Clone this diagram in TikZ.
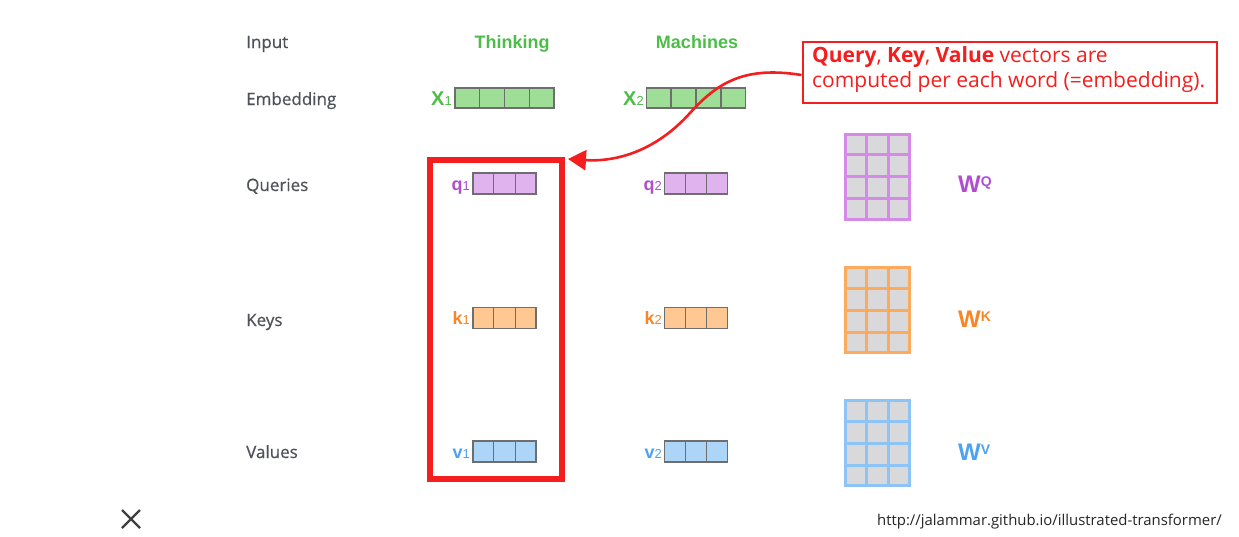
\documentclass[tikz,border=0pt]{standalone}
\usepackage{fontspec}
\setmainfont{Open Sans}
\newfontfamily\arialf{Liberation Sans}
\newfontfamily\labfont{Open Sans}[FakeBold=0.5]
\usetikzlibrary{arrows.meta,calc}
\definecolor{labgray}{RGB}{78,82,88}
\definecolor{wgreen}{RGB}{76,190,72}
\definecolor{gfill}{RGB}{158,222,150}
\definecolor{qpurple}{RGB}{176,78,208}
\definecolor{pfill}{RGB}{224,178,238}
\definecolor{pborder}{RGB}{214,138,232}
\definecolor{korange}{RGB}{245,135,40}
\definecolor{ofill}{RGB}{255,200,146}
\definecolor{oborder}{RGB}{251,170,94}
\definecolor{vblue}{RGB}{77,163,240}
\definecolor{bfill}{RGB}{172,213,248}
\definecolor{bborder}{RGB}{140,196,245}
\definecolor{cellgray}{RGB}{217,217,219}
\definecolor{boxgray}{RGB}{110,110,110}
\definecolor{hred}{RGB}{244,30,30}
\definecolor{xgray}{RGB}{64,64,64}
\tikzset{
  rowlab/.style={anchor=base west, inner sep=0pt, text=labgray, font=\labfont\fontsize{17}{17}\selectfont},
  wordlab/.style={anchor=base, inner sep=0pt, text=wgreen, font=\arialf\bfseries\fontsize{18}{18}\selectfont},
  veclab/.style={anchor=base east, inner sep=0pt},
  vecbox/.style={draw=boxgray, line width=1.2pt, inner sep=0pt},
  matbox/.style={line width=3pt, fill=cellgray, inner sep=0pt, minimum width=64pt, minimum height=85pt},
  wlab/.style={anchor=base west, inner sep=0pt, font=\arialf\bfseries\fontsize{24}{24}\selectfont},
  hl/.style={draw=hred, line width=6pt, inner sep=0pt},
  callout/.style={draw=hred, line width=2pt, inner sep=0pt, minimum width=414pt, minimum height=61pt},
  calltext/.style={anchor=north west, inner sep=0pt, text=hred, align=left, font=\fontsize{21}{25}\selectfont},
  redarrow/.style={draw=hred, line width=2.6pt, -{Triangle[length=18pt,width=20pt]}},
}
\newcommand{\splitcells}[3]{% name, n, color
  \foreach \i in {1,...,#2}{\ifnum\i<#2
    \draw[#3, line width=1.2pt] ($(#1.south west)!{\i/#2}!(#1.south east)$) -- ($(#1.north west)!{\i/#2}!(#1.north east)$);\fi}}
\newcommand{\gridcells}[2]{% name, color
  \foreach \i in {1,2}{\draw[#2, line width=3pt] ($(#1.south west)!{\i/3}!(#1.south east)$) -- ($(#1.north west)!{\i/3}!(#1.north east)$);}
  \foreach \j in {1,2,3}{\draw[#2, line width=3pt] ($(#1.north west)!{\j/4}!(#1.south west)$) -- ($(#1.north east)!{\j/4}!(#1.south east)$);}}
\newcommand{\subsz}[1]{{\arialf\mdseries\fontsize{13}{13}\selectfont #1}}
\newcommand{\supsz}[1]{\raisebox{6pt}{\fontsize{14}{14}\selectfont #1}}
\begin{document}
\begin{tikzpicture}[x=1pt,y=-1pt]
\useasboundingbox (0,0) rectangle (1239,536);
\fill[white] (0,0) rectangle (1239,536);

% row labels
\node[rowlab] (linput) at (246,48) {Input};
\node[rowlab] (lemb) at (246,105) {Embedding};
\node[rowlab] (lque) at (246,191) {Queries};
\node[rowlab] (lkey) at (246,326) {Keys};
\node[rowlab] (lval) at (246,458) {Values};

% words
\node[wordlab] (wthink) at (512,48) {Thinking};
\node[wordlab] (wmach) at (697,48) {Machines};

% embeddings
\node[vecbox, fill=gfill, minimum width=99pt, minimum height=20pt] (x1) at (504.5,98) {};
\splitcells{x1}{4}{boxgray}
\node[vecbox, fill=gfill, minimum width=99pt, minimum height=20pt] (x2) at (696,98) {};
\splitcells{x2}{4}{boxgray}
\node[veclab, text=wgreen, font=\arialf\bfseries\fontsize{20}{20}\selectfont] (x1l) at (452,105) {X\subsz{1}};
\node[veclab, text=wgreen, font=\arialf\bfseries\fontsize{20}{20}\selectfont] (x2l) at (644,105) {X\subsz{2}};

% queries
\node[vecbox, fill=pfill, minimum width=63pt, minimum height=21pt] (q1) at (504.5,183.5) {};
\splitcells{q1}{3}{boxgray}
\node[vecbox, fill=pfill, minimum width=63pt, minimum height=21pt] (q2) at (696,183.5) {};
\splitcells{q2}{3}{boxgray}
\node[veclab, text=qpurple, font=\arialf\bfseries\fontsize{18}{18}\selectfont] (q1l) at (470,190) {q\subsz{1}};
\node[veclab, text=qpurple, font=\arialf\bfseries\fontsize{18}{18}\selectfont] (q2l) at (662,190) {q\subsz{2}};

% keys
\node[vecbox, fill=ofill, minimum width=63pt, minimum height=21pt] (k1) at (504.5,318) {};
\splitcells{k1}{3}{boxgray}
\node[vecbox, fill=ofill, minimum width=63pt, minimum height=21pt] (k2) at (696,318) {};
\splitcells{k2}{3}{boxgray}
\node[veclab, text=korange, font=\arialf\bfseries\fontsize{18}{18}\selectfont] (k1l) at (470,324) {k\subsz{1}};
\node[veclab, text=korange, font=\arialf\bfseries\fontsize{18}{18}\selectfont] (k2l) at (662,324) {k\subsz{2}};

% values
\node[vecbox, fill=bfill, minimum width=63pt, minimum height=21pt] (v1) at (504.5,451.5) {};
\splitcells{v1}{3}{boxgray}
\node[vecbox, fill=bfill, minimum width=63pt, minimum height=21pt] (v2) at (696,451.5) {};
\splitcells{v2}{3}{boxgray}
\node[veclab, text=vblue, font=\arialf\bfseries\fontsize{18}{18}\selectfont] (v1l) at (470,458) {v\subsz{1}};
\node[veclab, text=vblue, font=\arialf\bfseries\fontsize{18}{18}\selectfont] (v2l) at (662,458) {v\subsz{2}};

% weight matrices
\node[matbox, draw=pborder] (wq) at (877.5,176.5) {};
\gridcells{wq}{pborder}
\node[matbox, draw=oborder] (wk) at (877.5,310) {};
\gridcells{wk}{oborder}
\node[matbox, draw=bborder] (wv) at (877.5,443) {};
\gridcells{wv}{bborder}
\node[wlab, text=qpurple] (wql) at (958,192) {W\supsz{Q}};
\node[wlab, text=korange] (wkl) at (958,327) {W\supsz{K}};
\node[wlab, text=vblue] (wvl) at (958,460) {W\supsz{V}};

% highlight box
\node[hl, minimum width=132pt, minimum height=319pt] (redbox) at (496,319.5) {};

% callout
\node[callout] (callbox) at (1009.5,72) {};
\node[calltext] (calltxt) at (812,46) {\textbf{Query}, \textbf{Key}, \textbf{Value} vectors are\\computed per each word (=embedding).};
\draw[redarrow] ($(callbox.west)+(0,3)$) .. controls (745,66) and (718,82) .. (690,113)
  .. controls (655,152) and (615,162) .. ($(redbox.north east)+(3,2)$);

% close mark
\coordinate (xc) at (131,519);
\draw[xgray, line width=2.4pt] ($(xc)+(-9,-9)$) -- ($(xc)+(9,9)$);
\draw[xgray, line width=2.4pt] ($(xc)+(-9,9)$) -- ($(xc)+(9,-9)$);

% url
\node[anchor=base east, inner sep=0pt, text=black!85, font=\fontsize{14.9}{15}\selectfont] (url) at (1222,525) {http://jalammar.github.io/illustrated-transformer/};
\end{tikzpicture}
\end{document}
